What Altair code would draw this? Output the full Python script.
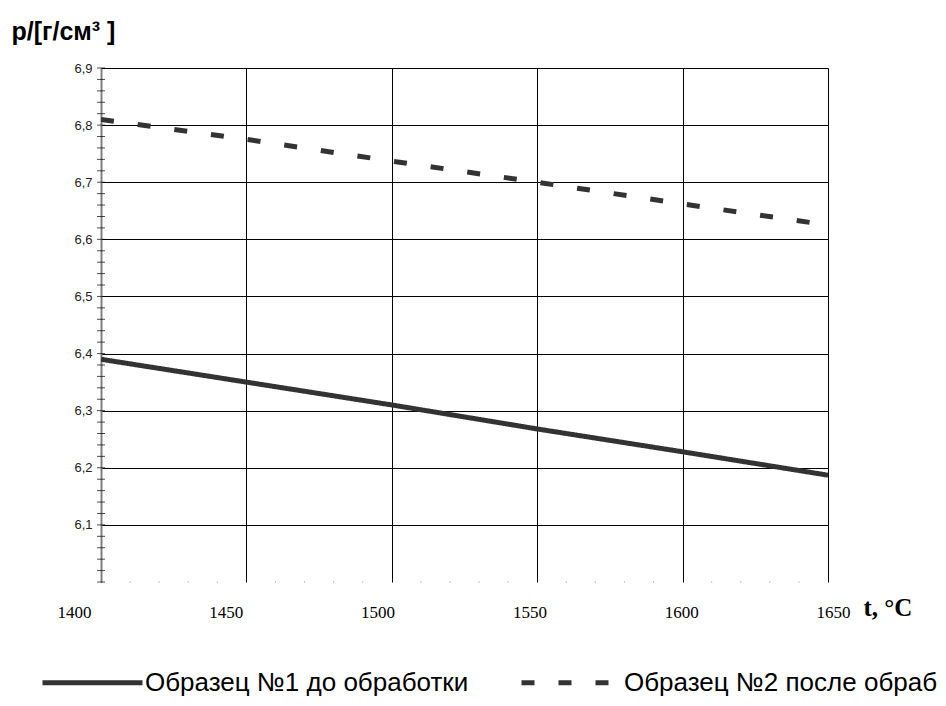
import altair as alt
import pandas as pd

temps = [1400, 1450, 1500, 1550, 1600, 1650]
series1_name = "Образец №1 до обработки"
series2_name = "Образец №2 после обработки"
density1 = [6.39, 6.35, 6.31, 6.268, 6.228, 6.187]
density2 = [6.81, 6.775, 6.737, 6.70, 6.662, 6.625]

x_ticks = [1400, 1450, 1500, 1550, 1600, 1650]
x_minor = [t for t in range(1410, 1650, 10) if t % 50 != 0]
y_major = [6.1, 6.2, 6.3, 6.4, 6.5, 6.6, 6.7, 6.8, 6.9]
y_minor = [round(6.0 + 0.02 * i, 2) for i in range(46)]

rows = []
for t, d in zip(temps, density1):
    rows.append({"t": t, "rho": d, "series": series1_name})
for t, d in zip(temps, density2):
    rows.append({"t": t, "rho": d, "series": series2_name})
df = pd.DataFrame(rows)

yticks_df = pd.DataFrame({"t": [1400] * len(y_minor), "rho": y_minor})
xdots_df = pd.DataFrame({"t": x_minor, "rho": [6.0] * len(x_minor)})
xlab_df = pd.DataFrame({"t": x_ticks, "rho": [6.0] * len(x_ticks)})

xscale = alt.Scale(domain=[1400, 1650], nice=False, zero=False)
yscale = alt.Scale(domain=[6.0, 6.9], nice=False, zero=False)

xaxis = alt.Axis(values=x_ticks, grid=True, gridColor="black", gridWidth=1,
                 domain=False, ticks=False, labels=False,
                 title="t, °C", titleFont="Liberation Serif",
                 titleFontSize=25, titleFontWeight="bold", titleColor="black",
                 titleAngle=0, titleAlign="left", titleBaseline="alphabetic",
                 titleX=762, titleY=33)
yaxis = alt.Axis(values=y_major, grid=True, gridColor="black", gridWidth=1,
                 domain=True, domainColor="#808080", domainWidth=2,
                 ticks=False, labelFont="Liberation Sans", labelFontSize=13,
                 labelColor="#222222", labelPadding=9, labelFlush=False,
                 labelExpr="replace(format(datum.value, '.1f'), '.', ',')",
                 title="p/[г/см³ ]", titleFont="Liberation Sans",
                 titleFontSize=25, titleFontWeight="bold", titleColor="black",
                 titleAngle=0, titleAlign="left", titleBaseline="alphabetic",
                 titleX=-90, titleY=-29)

lines = alt.Chart(df).mark_line(strokeWidth=5, color="#333333", clip=True).encode(
    x=alt.X("t:Q", scale=xscale, axis=xaxis),
    y=alt.Y("rho:Q", scale=yscale, axis=yaxis),
    strokeDash=alt.StrokeDash(
        "series:N",
        scale=alt.Scale(domain=[series1_name, series2_name], range=[[1, 0], [13, 24]]),
        legend=alt.Legend(orient="none", legendX=-61, legendY=562, direction="horizontal",
                          title=None, symbolType="stroke", symbolSize=100 ** 2,
                          symbolStrokeWidth=5, symbolStrokeColor="#333333",
                          labelFont="Liberation Sans", labelFontSize=26, labelColor="black",
                          labelOffset=0, columnPadding=42, labelLimit=900),
    ),
)

yminor = alt.Chart(yticks_df).mark_tick(orient="horizontal", size=8, thickness=1,
                                        color="black").encode(
    x=alt.X("t:Q", scale=xscale, axis=xaxis),
    y=alt.Y("rho:Q", scale=yscale, axis=yaxis),
)

xdots = alt.Chart(xdots_df).mark_tick(orient="vertical", size=2, thickness=1,
                                      color="#b0b0b0").encode(
    x=alt.X("t:Q", scale=xscale, axis=xaxis),
    y=alt.Y("rho:Q", scale=yscale, axis=yaxis),
)

main = alt.layer(lines, yminor, xdots)

xlabels = alt.Chart(xlab_df).mark_point(opacity=0).encode(
    x=alt.X("t:Q", scale=alt.Scale(domain=[1400, 1650], range=[-27, 732], nice=False, zero=False),
            axis=alt.Axis(orient="bottom", values=x_ticks, grid=False, domain=False,
                          ticks=False, labelFont="Liberation Serif", labelFontSize=17,
                          labelColor="black", labelPadding=22, labelFlush=False,
                          format="d", title=None)),
    y=alt.Y("rho:Q", scale=yscale, axis=yaxis),
)

chart = alt.layer(main, xlabels).resolve_scale(x="independent").properties(
    width=727, height=514,
    autosize=alt.AutoSizeParams(type="none"),
    padding={"left": 93, "top": 60, "right": 110, "bottom": 116},
).configure_view(strokeWidth=0)

chart.save("out.html", embed_options={"renderer": "svg", "actions": False})
